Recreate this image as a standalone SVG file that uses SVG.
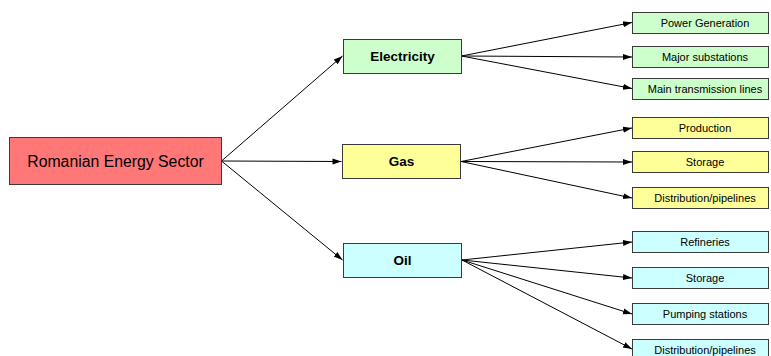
<svg xmlns="http://www.w3.org/2000/svg" width="771" height="356" viewBox="0 0 771 356">
<defs>
<marker id="ah" markerWidth="10" markerHeight="8" refX="9" refY="4" orient="auto" markerUnits="userSpaceOnUse">
<path d="M0,1 L9,4 L0,7 Z" fill="#000"/>
</marker>
</defs>
<style>
rect{stroke:#3a3a3a;stroke-width:1}
text{font-family:"Liberation Sans",Arial,sans-serif;fill:#000;text-anchor:middle;dominant-baseline:central}
.root{fill:#ff7777}
.el{fill:#ccffcc}
.gas{fill:#ffff99}
.oil{fill:#ccffff}
.t1{font-size:15.8px}
.t2{font-size:13.5px;font-weight:bold}
.t3{font-size:11px}
#connectors line{stroke:#000;stroke-width:1;marker-end:url(#ah)}
</style>
<rect width="771" height="356" fill="#fff" style="stroke:none"/>
<g id="connectors">
<line x1="221.5" y1="161" x2="342.5" y2="56"/>
<line x1="221.5" y1="161" x2="341.5" y2="161.5"/>
<line x1="221.5" y1="161" x2="342.5" y2="260"/>
<line x1="461.5" y1="56" x2="632" y2="22.5"/>
<line x1="461.5" y1="56" x2="632" y2="57"/>
<line x1="461.5" y1="56" x2="632" y2="88.5"/>
<line x1="461" y1="161.5" x2="632" y2="128"/>
<line x1="461" y1="161.5" x2="632" y2="162"/>
<line x1="461" y1="161.5" x2="632" y2="198"/>
<line x1="462" y1="260" x2="632" y2="242"/>
<line x1="462" y1="260" x2="632" y2="278"/>
<line x1="462" y1="260" x2="632" y2="314"/>
<line x1="462" y1="260" x2="632" y2="349"/>
</g>
<g id="root"><rect class="root" x="9.5" y="137.5" width="212" height="47"/><text class="t1" x="115.5" y="161">Romanian Energy Sector</text></g>
<g id="electricity"><rect class="el" x="343.5" y="39.5" width="118" height="34"/><text class="t2" x="402.5" y="56.5">Electricity</text></g>
<g id="gas"><rect class="gas" x="342.5" y="144.5" width="118" height="34"/><text class="t2" x="401.5" y="161.5">Gas</text></g>
<g id="oil"><rect class="oil" x="343.5" y="243.5" width="118" height="34"/><text class="t2" x="402.5" y="260.5">Oil</text></g>
<g id="power-generation"><rect class="el" x="632.5" y="12.5" width="136" height="21"/><text class="t3" x="705" y="23">Power Generation</text></g>
<g id="major-substations"><rect class="el" x="632.5" y="46.5" width="136" height="21"/><text class="t3" x="705" y="57">Major substations</text></g>
<g id="main-transmission-lines"><rect class="el" x="632.5" y="78.5" width="136" height="21"/><text class="t3" x="705" y="89">Main transmission lines</text></g>
<g id="production"><rect class="gas" x="632.5" y="117.5" width="136" height="21"/><text class="t3" x="705" y="128">Production</text></g>
<g id="gas-storage"><rect class="gas" x="632.5" y="151.5" width="136" height="21"/><text class="t3" x="705" y="162">Storage</text></g>
<g id="gas-distribution"><rect class="gas" x="632.5" y="187.5" width="136" height="21"/><text class="t3" x="705" y="198">Distribution/pipelines</text></g>
<g id="refineries"><rect class="oil" x="632.5" y="231.5" width="136" height="21"/><text class="t3" x="705" y="242">Refineries</text></g>
<g id="oil-storage"><rect class="oil" x="632.5" y="267.5" width="136" height="21"/><text class="t3" x="705" y="278">Storage</text></g>
<g id="pumping-stations"><rect class="oil" x="632.5" y="303.5" width="136" height="21"/><text class="t3" x="705" y="314">Pumping stations</text></g>
<g id="oil-distribution"><rect class="oil" x="632.5" y="339.5" width="136" height="21"/><text class="t3" x="705" y="350">Distribution/pipelines</text></g>
</svg>
